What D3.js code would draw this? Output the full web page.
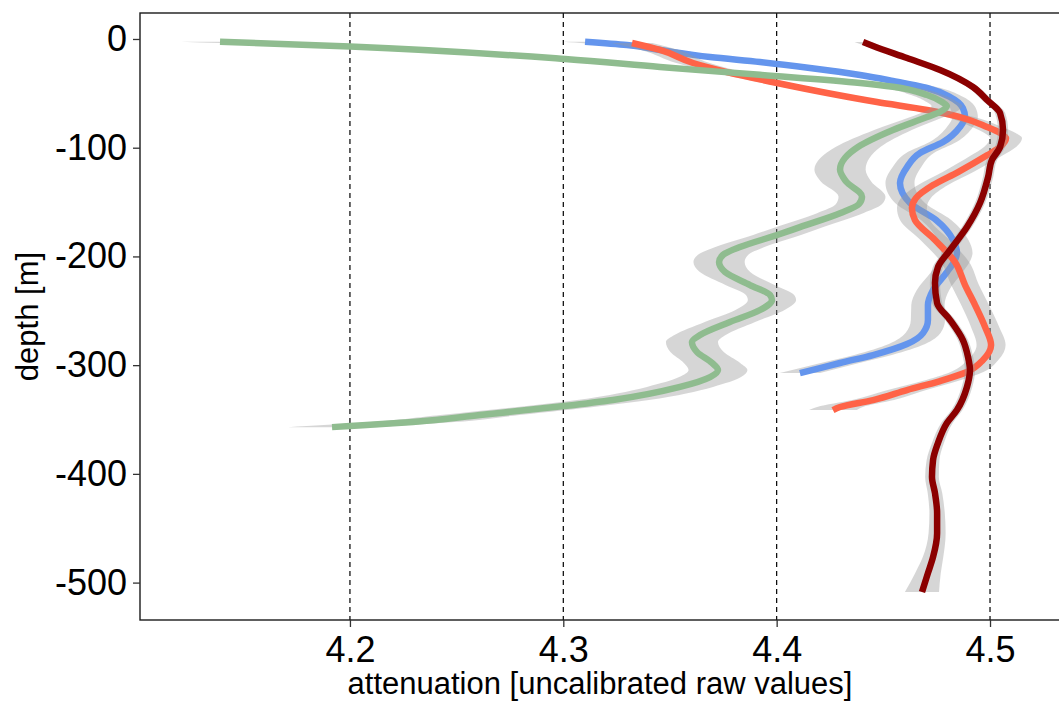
<!DOCTYPE html>
<html>
<head>
<meta charset="utf-8">
<script src="https://cdn.jsdelivr.net/npm/d3@7"></script>
<style>
  body { margin: 0; background: #fff; }
  svg { display: block; }
  text { font-family: "Liberation Sans", Arial, sans-serif; }
</style>
</head>
<body>
<svg id="chart" width="1059" height="703"></svg>
<script>
// Axis ticks
const xTicks = [4.2, 4.3, 4.4, 4.5];
const yTicks = [0, -100, -200, -300, -400, -500];

// Smoothed attenuation profiles: depth [m], fitted value, standard error
const depthBlue = [-2.5, -5.5, -10.1, -16.6, -21.2, -26.7, -33.1, -38.6, -45.1, -53.4, -63.5, -71.8, -81, -94.8, -104.9, -117.8, -132.5, -150.9, -166.5, -184.9, -196.9, -203.3, -214.4, -230.9, -244.7, -258.5, -270.5, -280.6, -290.7, -298, -302.7, -307.3];
const fitBlue   = [4.3102, 4.3298, 4.3453, 4.3688, 4.3922, 4.4156, 4.4391, 4.4545, 4.4705, 4.4813, 4.4873, 4.4883, 4.4859, 4.4780, 4.4672, 4.4611, 4.4578, 4.4625, 4.4747, 4.4827, 4.4845, 4.4836, 4.4798, 4.4733, 4.4709, 4.4709, 4.4686, 4.4611, 4.4452, 4.4297, 4.4203, 4.4109];
const seBlue    = [0.0103, 0.0095, 0.0088, 0.0080, 0.0075, 0.0072, 0.0068, 0.0066, 0.0064, 0.0062, 0.0060, 0.0060, 0.0061, 0.0063, 0.0065, 0.0067, 0.0068, 0.0070, 0.0071, 0.0072, 0.0073, 0.0073, 0.0074, 0.0076, 0.0078, 0.0080, 0.0082, 0.0085, 0.0088, 0.0090, 0.0092, 0.0094];

const depthRed = [-3.7, -10.1, -22.1, -30.4, -40.5, -49.7, -58, -65.3, -71.8, -81, -86.5, -91.1, -99.4, -107, -122.4, -134.4, -146.3, -155.5, -166.5, -184.9, -205.2, -226.3, -244.7, -265, -281.5, -295.3, -306.3, -314.6, -322.9, -332.1, -338.5, -341.3];
const fitRed   = [4.3322, 4.3453, 4.3608, 4.3767, 4.4002, 4.4236, 4.4470, 4.4705, 4.4859, 4.4986, 4.5047, 4.5075, 4.5047, 4.4986, 4.4850, 4.4733, 4.4653, 4.4634, 4.4648, 4.4742, 4.4836, 4.4883, 4.4930, 4.4977, 4.5005, 4.4967, 4.4892, 4.4766, 4.4611, 4.4452, 4.4297, 4.4264];
const seRed    = [0.0095, 0.0088, 0.0078, 0.0072, 0.0066, 0.0063, 0.0062, 0.0063, 0.0066, 0.0070, 0.0073, 0.0075, 0.0075, 0.0074, 0.0072, 0.0070, 0.0070, 0.0070, 0.0070, 0.0068, 0.0066, 0.0065, 0.0065, 0.0066, 0.0068, 0.0072, 0.0077, 0.0083, 0.0090, 0.0098, 0.0107, 0.0112];

const depthGreen = [-2.5, -6.9, -18.4, -25.8, -33, -40.5, -44, -51.5, -58, -61.6, -67, -71.8, -83.7, -99.4, -109.5, -120, -131, -145, -152, -160, -173, -180.3, -191.4, -198.7, -205.2, -214.4, -226.3, -235.5, -240.1, -249.3, -260.3, -272.3, -278.7, -288, -298, -304.5, -311, -320, -332, -337.6, -345.9, -352.3, -356, -357];
const fitGreen   = [4.1391, 4.2000, 4.3008, 4.3453, 4.3922, 4.4391, 4.4545, 4.4705, 4.4775, 4.4798, 4.4766, 4.4705, 4.4545, 4.4381, 4.4320, 4.4297, 4.4325, 4.4400, 4.4385, 4.4300, 4.4109, 4.4002, 4.3828, 4.3748, 4.3730, 4.3758, 4.3875, 4.3969, 4.3978, 4.3922, 4.3781, 4.3641, 4.3603, 4.3627, 4.3697, 4.3725, 4.3688, 4.3547, 4.3233, 4.3003, 4.2609, 4.2295, 4.2000, 4.1916];
const seGreen    = [0.0183, 0.0160, 0.0120, 0.0105, 0.0095, 0.0085, 0.0080, 0.0075, 0.0072, 0.0072, 0.0074, 0.0078, 0.0088, 0.0105, 0.0115, 0.0120, 0.0118, 0.0110, 0.0108, 0.0108, 0.0110, 0.0112, 0.0115, 0.0118, 0.0120, 0.0118, 0.0115, 0.0113, 0.0113, 0.0115, 0.0118, 0.0120, 0.0122, 0.0125, 0.0132, 0.0138, 0.0145, 0.0155, 0.0168, 0.0175, 0.0185, 0.0195, 0.0202, 0.0206];

const depthDark = [-2.8, -6.4, -17.5, -28.5, -44.2, -56.1, -68.1, -83.7, -99.4, -111.3, -127, -150.9, -173, -194.1, -209.8, -224.5, -242.9, -258.5, -276.9, -292.5, -304.5, -320.1, -341.3, -353.3, -371.7, -387.3, -402.9, -417.7, -436.1, -454.5, -476.5, -491.3, -508.7];
const fitDark   = [4.4405, 4.4452, 4.4611, 4.4766, 4.4920, 4.4986, 4.5047, 4.5061, 4.5047, 4.5009, 4.4991, 4.4953, 4.4892, 4.4813, 4.4756, 4.4742, 4.4752, 4.4813, 4.4873, 4.4897, 4.4906, 4.4892, 4.4845, 4.4798, 4.4756, 4.4733, 4.4728, 4.4742, 4.4752, 4.4752, 4.4733, 4.4709, 4.4681];
const seDark    = [0.0040, 0.0036, 0.0030, 0.0027, 0.0025, 0.0024, 0.0024, 0.0024, 0.0024, 0.0024, 0.0024, 0.0024, 0.0024, 0.0024, 0.0024, 0.0024, 0.0024, 0.0024, 0.0024, 0.0024, 0.0024, 0.0025, 0.0026, 0.0027, 0.0028, 0.0030, 0.0032, 0.0034, 0.0036, 0.0040, 0.0048, 0.0060, 0.0080];

const seriesColors = ["#6495ED", "#FF6347", "#8FBC8F", "#8B0000"];

const series = [
  [depthBlue, fitBlue, seBlue],
  [depthRed, fitRed, seRed],
  [depthGreen, fitGreen, seGreen],
  [depthDark, fitDark, seDark]
].map(([dep, fit, se], i) => ({
  color: seriesColors[i],
  points: dep.map((d, j) => ({ depth: d, fit: fit[j], se: se[j] }))
}));

// Layout
const panel = { left: 140, top: 13, right: 1060, bottom: 620 };

const x = d3.scaleLinear().domain([4.1016, 4.5328]).range([panel.left, panel.right]);
const y = d3.scaleLinear().domain([-534.4, 23.9]).range([panel.bottom, panel.top]);

const svg = d3.select("#chart");

// Vertical dashed reference lines
svg.append("g")
  .selectAll("line")
  .data(xTicks)
  .join("line")
  .attr("x1", d => x(d)).attr("x2", d => x(d))
  .attr("y1", panel.top).attr("y2", panel.bottom)
  .attr("stroke", "#000")
  .attr("stroke-width", 1.2)
  .attr("stroke-dasharray", "5,4");

// Confidence ribbons and smoothed lines, one group per profile
const area = d3.area()
  .curve(d3.curveMonotoneY)
  .y(d => y(d.depth))
  .x0(d => x(d.fit - d.se))
  .x1(d => x(d.fit + d.se));

const line = d3.line()
  .curve(d3.curveMonotoneY)
  .x(d => x(d.fit))
  .y(d => y(d.depth));

const groups = svg.append("g")
  .selectAll("g")
  .data(series)
  .join("g");

groups.append("path")
  .attr("d", d => area(d.points))
  .attr("fill", "#999999")
  .attr("fill-opacity", 0.4);

groups.append("path")
  .attr("d", d => line(d.points))
  .attr("fill", "none")
  .attr("stroke", d => d.color)
  .attr("stroke-width", 6.5)
  .attr("stroke-linejoin", "round");

// Panel border (right edge lies outside the canvas)
svg.append("rect")
  .attr("x", panel.left).attr("y", panel.top)
  .attr("width", panel.right + 4 - panel.left)
  .attr("height", panel.bottom - panel.top)
  .attr("fill", "none")
  .attr("stroke", "#1a1a1a")
  .attr("stroke-width", 1.4);

// Axes
const yAxis = svg.append("g")
  .attr("transform", `translate(${panel.left},0)`)
  .call(d3.axisLeft(y).tickValues(yTicks).tickSize(7).tickPadding(6).tickFormat(d => String(d)));
const xAxis = svg.append("g")
  .attr("transform", `translate(0,${panel.bottom})`)
  .call(d3.axisBottom(x).tickValues(xTicks).tickSize(7).tickPadding(9).tickFormat(d3.format(".1f")));

[yAxis, xAxis].forEach(g => {
  g.select(".domain").remove();
  g.selectAll(".tick line").attr("stroke", "#333").attr("stroke-width", 1.3);
  g.selectAll(".tick text")
    .attr("fill", "#000")
    .style("font-size", "36px")
    .style("font-family", '"Liberation Sans", Arial, sans-serif');
});

// Axis titles
svg.append("text")
  .attr("x", (panel.left + panel.right) / 2)
  .attr("y", 694)
  .attr("text-anchor", "middle")
  .style("font-size", "31px")
  .text("attenuation [uncalibrated raw values]");

svg.append("text")
  .attr("transform", `translate(38,${(panel.top + panel.bottom) / 2}) rotate(-90)`)
  .attr("text-anchor", "middle")
  .style("font-size", "31px")
  .text("depth [m]");
</script>
</body>
</html>
